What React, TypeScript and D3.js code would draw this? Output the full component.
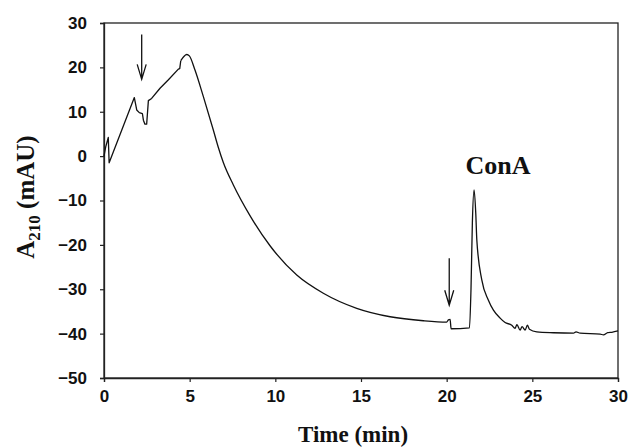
import { useEffect, useRef } from "react";
import * as d3 from "d3";

// time (min) and absorbance (mAU)
const times = [
  0.0, 0.1, 0.25, 0.3, 1.77, 1.91, 2.06, 2.24, 2.3, 2.39, 2.49, 2.59, 2.78,
  3.27, 3.76, 4.34, 4.42, 4.48, 4.83, 4.98, 5.31, 5.8, 6.38, 6.67, 6.97, 7.55,
  8.52, 9.69, 11.25, 12.8, 14.75, 16.7, 18.64, 20.0, 20.1, 20.2, 20.26, 21.33,
  21.42, 21.5, 21.6, 21.7, 21.76, 22.05, 22.43, 22.73, 23.12, 23.41, 23.8,
  23.99, 24.1, 24.29, 24.4, 24.58, 24.71, 24.83, 25.26, 26.23, 27.4, 27.55,
  27.79, 28.96, 29.15, 29.4, 29.64, 30.0,
];
const absorbance = [
  0.0, 2.1, 4.2, -1.5, 13.2, 10.4, 9.8, 9.6, 8.1, 7.2, 7.2, 12.5, 13.0, 15.3,
  17.2, 19.6, 19.7, 21.5, 22.9, 22.6, 19.4, 13.4, 5.9, 2.0, -1.5, -6.5, -13.4,
  -20.2, -26.8, -30.9, -34.3, -36.2, -37.1, -37.4, -36.9, -36.8, -38.9, -38.7,
  -30, -15, -7.6, -13, -18.9, -27.9, -32.4, -34.7, -36.5, -37.5, -38.1, -38.8,
  -38.0, -39.2, -38.4, -39.2, -38.1, -39.0, -39.6, -39.8, -39.9, -39.6, -39.9,
  -40.1, -40.3, -39.8, -39.7, -39.4,
];
// the early part is jagged (straight segments), the rest is smooth
const jaggedUntil = 17;

const xTicks = [0, 5, 10, 15, 20, 25, 30];
const yTicks = [30, 20, 10, 0, -10, -20, -30, -40, -50];

// injection arrows: [time, from, to]
const arrows = [
  [2.2, 27.4, 17.3],
  [20.15, -23, -33.6],
];
const peakLabel = { text: "ConA", t: 23.0, v: -4.0 };

function App() {
  const ref = useRef<HTMLDivElement>(null);

  useEffect(() => {
    const container = d3.select(ref.current);
    container.selectAll("*").remove();

    const width = 629;
    const height = 448;
    const margin = { top: 23, right: 11, bottom: 70, left: 104 };

    const svg = container
      .append("svg")
      .attr("width", width)
      .attr("height", height)
      .style("position", "absolute")
      .style("left", "0px")
      .style("top", "0px")
      .style("background", "#fff");

    const x = d3
      .scaleLinear()
      .domain([0, 30])
      .range([margin.left, width - margin.right]);
    const y = d3
      .scaleLinear()
      .domain([-50, 30])
      .range([height - margin.bottom, margin.top]);

    const sans = "'Liberation Sans', Arial, sans-serif";
    const serif = "'Liberation Serif', 'Times New Roman', serif";

    // frame
    svg
      .append("rect")
      .attr("x", x(0))
      .attr("y", y(30))
      .attr("width", x(30) - x(0))
      .attr("height", y(-50) - y(30))
      .attr("fill", "none")
      .attr("stroke", "#222")
      .attr("stroke-width", 1.3);

    const xAxis = svg
      .append("g")
      .attr("transform", `translate(0,${y(-50)})`)
      .call(d3.axisBottom(x).tickValues(xTicks).tickSize(4).tickPadding(8));
    const yAxis = svg
      .append("g")
      .attr("transform", `translate(${x(0)},0)`)
      .call(d3.axisLeft(y).tickValues(yTicks).tickSize(4).tickPadding(13));

    [xAxis, yAxis].forEach((g) => {
      g.select(".domain").attr("stroke", "#222").attr("stroke-width", 1.3);
      g.selectAll(".tick line").attr("stroke", "#222").attr("stroke-width", 1.2);
      g.selectAll(".tick text")
        .attr("fill", "#111")
        .style("font-family", sans)
        .style("font-weight", "bold")
        .style("font-size", "17px");
    });

    // trace
    const pts = times.map((t, i) => [t, absorbance[i]] as [number, number]);
    const jagged = d3
      .line<[number, number]>()
      .x((d) => x(d[0]))
      .y((d) => y(d[1]));
    const smooth = jagged.curve(d3.curveMonotoneX);

    svg
      .append("path")
      .attr("d", d3.line<[number, number]>().x((d) => x(d[0])).y((d) => y(d[1]))(pts.slice(0, jaggedUntil + 1)))
      .attr("fill", "none")
      .attr("stroke", "#111")
      .attr("stroke-width", 1.3)
      .attr("stroke-linejoin", "round");
    svg
      .append("path")
      .attr("d", smooth(pts.slice(jaggedUntil)))
      .attr("fill", "none")
      .attr("stroke", "#111")
      .attr("stroke-width", 1.3)
      .attr("stroke-linejoin", "round");

    // arrows
    arrows.forEach(([t, from, to]) => {
      const ax = x(t);
      const y0 = y(from);
      const y1 = y(to);
      svg
        .append("path")
        .attr(
          "d",
          `M${ax},${y0}L${ax},${y1}M${ax - 4.5},${y1 - 15}L${ax},${y1}L${ax + 4.5},${y1 - 15}`
        )
        .attr("fill", "none")
        .attr("stroke", "#111")
        .attr("stroke-width", 1.3);
    });

    svg
      .append("text")
      .attr("x", x(peakLabel.t))
      .attr("y", y(peakLabel.v))
      .attr("text-anchor", "middle")
      .attr("fill", "#111")
      .style("font-family", serif)
      .style("font-weight", "bold")
      .style("font-size", "26px")
      .text(peakLabel.text);

    svg
      .append("text")
      .attr("x", (x(0) + x(30)) / 2 - 8)
      .attr("y", 442)
      .attr("text-anchor", "middle")
      .attr("fill", "#111")
      .style("font-family", serif)
      .style("font-weight", "bold")
      .style("font-size", "23px")
      .text("Time (min)");

    const yTitle = svg
      .append("text")
      .attr("transform", "translate(34,197) rotate(-90)")
      .attr("text-anchor", "middle")
      .attr("fill", "#111")
      .style("font-family", serif)
      .style("font-weight", "bold")
      .style("font-size", "25px");
    yTitle.append("tspan").text("A");
    yTitle
      .append("tspan")
      .attr("dy", 6)
      .style("font-size", "17px")
      .text("210");
    yTitle.append("tspan").attr("dy", -6).text(" (mAU)");
  }, []);

  return <div ref={ref} />;
}

export default App;
